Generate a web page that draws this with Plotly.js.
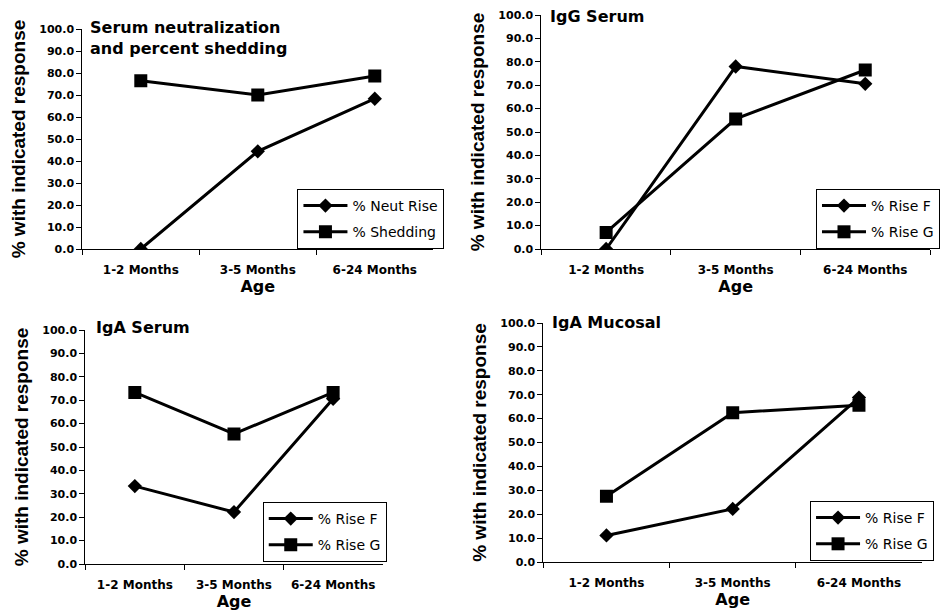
<!DOCTYPE html>
<html>
<head>
<meta charset="utf-8">
<script src="https://cdn.plot.ly/plotly-3.0.1.min.js"></script>
<style>html,body{margin:0;padding:0;background:#fff;}#chart{width:940px;height:611px;}</style>
</head>
<body>
<div id="chart"></div>
<script>
var categories = ["1-2 Months", "3-5 Months", "6-24 Months"];
var yTickVals = [0, 10, 20, 30, 40, 50, 60, 70, 80, 90, 100];

var panelTitles = ["Serum neutralization<br>and percent shedding", "IgG Serum", "IgA Serum", "IgA Mucosal"];
var seriesNamesA = ["% Neut Rise", "% Shedding"];
var seriesNamesB = ["% Rise F", "% Rise G"];

var neutRise = [0.0, 44.4, 68.3];
var shedding = [76.5, 70.0, 78.6];
var iggSerumF = [0.0, 78.0, 70.6];
var iggSerumG = [7.1, 55.6, 76.5];
var igaSerumF = [33.3, 22.2, 70.6];
var igaSerumG = [73.3, 55.6, 73.3];
var igaMucosalF = [11.1, 22.2, 68.8];
var igaMucosalG = [27.5, 62.5, 65.6];

var W = 940, H = 611;
var panels = [
  {ax: "", names: seriesNamesA, s1: neutRise, s2: shedding, px: [83, 437], py: [29, 249], leg: [300, 189], ttl: [89, 38.5]},
  {ax: "2", names: seriesNamesB, s1: iggSerumF, s2: iggSerumG, px: [546, 938], py: [15, 249], leg: [823, 189], ttl: [553, 16]},
  {ax: "3", names: seriesNamesB, s1: igaSerumF, s2: igaSerumG, px: [86, 386], py: [330, 564], leg: [265, 502], ttl: [95, 327.5]},
  {ax: "4", names: seriesNamesB, s1: igaMucosalF, s2: igaMucosalG, px: [548, 930], py: [323, 562], leg: [817, 501], ttl: [555, 322]}
];

var BOLD = "DejaVu Sans";
var traces = [];
var layout = {
  width: W, height: H,
  margin: {l: 0, r: 0, t: 0, b: 0},
  paper_bgcolor: "#ffffff",
  plot_bgcolor: "#ffffff",
  font: {family: "DejaVu Sans", color: "#000000"},
  annotations: []
};

panels.forEach(function (p, i) {
  var legName = i === 0 ? "legend" : "legend" + (i + 1);
  var xa = "x" + p.ax, ya = "y" + p.ax;
  traces.push({
    x: categories, y: p.s1, name: p.names[0], type: "scatter", mode: "lines+markers",
    xaxis: xa, yaxis: ya, legend: legName, legendgroup: "g" + i + "a",
    line: {color: "#000000", width: 3},
    marker: {symbol: "diamond", size: 11, color: "#000000"}
  });
  traces.push({
    x: categories, y: p.s2, name: p.names[1], type: "scatter", mode: "lines+markers",
    xaxis: xa, yaxis: ya, legend: legName, legendgroup: "g" + i + "b",
    line: {color: "#000000", width: 3},
    marker: {symbol: "square", size: 13, color: "#000000"}
  });
  layout["xaxis" + p.ax] = {
    domain: [p.px[0] / W, p.px[1] / W],
    anchor: ya,
    type: "category",
    range: [-0.5, 2.5],
    tickson: "boundaries",
    ticks: "outside", ticklen: 5, tickcolor: "#000000", tickwidth: 1,
    showline: true, linecolor: "#000000", linewidth: 1,
    showgrid: false, zeroline: false,
    tickfont: {family: BOLD, size: 12, color: "#000000", weight: "bold"},
    ticklabelstandoff: 10,
    title: {text: "Age", font: {family: BOLD, size: 16, color: "#000000", weight: "bold"}, standoff: 1},
    fixedrange: true
  };
  layout["yaxis" + p.ax] = {
    domain: [1 - p.py[1] / H, 1 - p.py[0] / H],
    anchor: xa,
    range: [0, 100],
    tickvals: yTickVals,
    tickformat: ".1f",
    ticks: "outside", ticklen: 5, tickcolor: "#000000", tickwidth: 1,
    showline: true, linecolor: "#000000", linewidth: 1,
    showgrid: false, zeroline: false,
    tickfont: {family: BOLD, size: 11, color: "#000000", weight: "bold"},
    title: {text: "% with indicated response", font: {family: "Liberation Sans", size: 19, color: "#000000", weight: "bold"}, standoff: 8},
    fixedrange: true
  };
  layout[legName] = {
    x: p.leg[0] / W, y: 1 - p.leg[1] / H, xanchor: "left", yanchor: "top",
    xref: "paper", yref: "paper",
    bgcolor: "#ffffff", bordercolor: "#000000", borderwidth: 1,
    font: {family: "DejaVu Sans", size: 14, color: "#000000"},
    traceorder: "grouped", tracegroupgap: 5,
    itemwidth: 44
  };
  layout.annotations.push({
    text: panelTitles[i], xref: "paper", yref: "paper",
    x: p.ttl[0] / W, y: 1 - p.ttl[1] / H, xanchor: "left", yanchor: "middle",
    align: "left", showarrow: false,
    font: {family: BOLD, size: 16, color: "#000000", weight: "bold"}
  });
});

Plotly.newPlot("chart", traces, layout, {displayModeBar: false, staticPlot: true});
</script>
</body>
</html>
